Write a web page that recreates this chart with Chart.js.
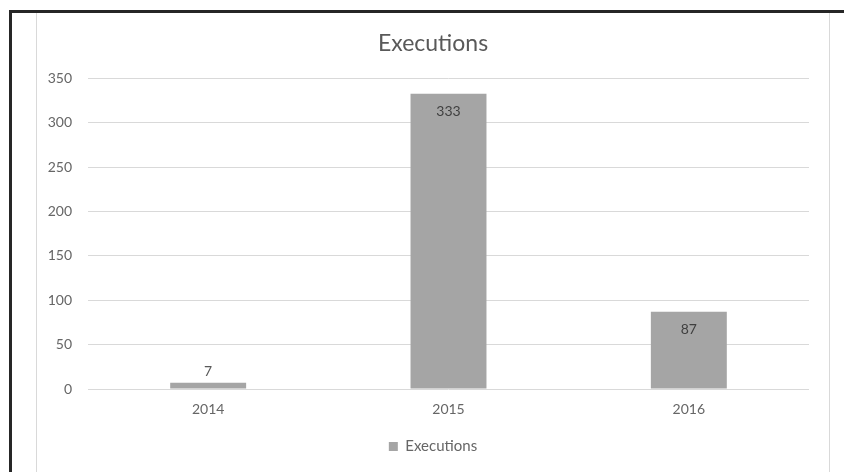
<!DOCTYPE html>
<html>
<head>
<meta charset="utf-8">
<script src="https://cdn.jsdelivr.net/npm/chart.js@4.4.1/dist/chart.umd.min.js"></script>
<style>
  html, body { margin: 0; padding: 0; background: #ffffff; width: 844px; height: 472px; overflow: hidden; }
  #frame { position: absolute; left: 9px; top: 10px; width: 840px; height: 470px;
           border-top: 3px solid #262626; border-left: 3px solid #262626; }
  #inner { position: absolute; left: 36px; top: 13px; width: 792px; height: 459px;
           border-left: 1px solid #d9d9d9; border-right: 1px solid #d9d9d9; }
  #wrap { position: absolute; left: 37px; top: 13px; width: 792px; height: 459px; }
</style>
</head>
<body>
<div id="frame"></div>
<div id="inner"></div>
<div id="wrap"><canvas id="c"></canvas></div>
<script>
const categories = ["2014", "2015", "2016"];
const executions = [7, 333, 87];
const seriesName = "Executions";
const chartTitle = "Executions";
const yTicks = [0, 50, 100, 150, 200, 250, 300, 350];

const FONT = "Lato, 'Open Sans', sans-serif";

const labelPlugin = {
  id: 'valueLabels',
  afterDatasetsDraw(chart) {
    const ctx = chart.ctx;
    const meta = chart.getDatasetMeta(0);
    ctx.save();
    ctx.font = "14px " + FONT;
    ctx.textAlign = 'center';
    ctx.textBaseline = 'middle';
    meta.data.forEach((bar, i) => {
      const v = chart.data.datasets[0].data[i];
      const h = bar.base - bar.y;
      if (h > 30) {
        ctx.fillStyle = '#404040';
        ctx.fillText(String(v), bar.x, bar.y + 18);
      } else {
        ctx.fillStyle = '#595959';
        ctx.fillText(String(v), bar.x, bar.y - 11);
      }
    });
    ctx.restore();
  }
};

// center title and legend on the full chart width (as in the original)
const recenterPlugin = {
  id: 'recenter',
  afterLayout(chart) {
    [chart.titleBlock, chart.legend].forEach(b => {
      if (b) { b.left = 0; b.right = chart.width; b.width = chart.width; }
    });
  }
};

new Chart(document.getElementById('c'), {
  type: 'bar',
  data: {
    labels: categories,
    datasets: [{
      label: seriesName,
      data: executions,
      backgroundColor: '#a5a5a5',
      borderWidth: 0,
      barPercentage: 0.316,
      categoryPercentage: 1.0
    }]
  },
  options: {
    responsive: true,
    maintainAspectRatio: false,
    animation: false,
    devicePixelRatio: 1,
    layout: { padding: { left: 0, right: 20, top: 0, bottom: 8 } },
    plugins: {
      title: {
        display: true,
        text: chartTitle,
        color: '#595959',
        font: { family: FONT, size: 23, weight: 'normal', lineHeight: 1.2 },
        padding: { top: 17, bottom: 21 }
      },
      legend: {
        display: true,
        position: 'bottom',
        labels: {
          color: '#666666',
          font: { family: FONT, size: 15 },
          boxWidth: 9,
          boxHeight: 9,
          padding: 10
        }
      },
      tooltip: { enabled: false }
    },
    scales: {
      x: {
        grid: { display: false, drawTicks: false },
        border: { display: false },
        ticks: { color: '#666666', font: { family: FONT, size: 14 }, padding: 12 },
        afterFit(scale) { scale.height = 40; }
      },
      y: {
        min: 0,
        max: 350,
        afterBuildTicks(scale) { scale.ticks = yTicks.map(v => ({ value: v })); },
        grid: { color: '#d9d9d9', lineWidth: 1, drawTicks: false },
        border: { display: false },
        ticks: { color: '#666666', font: { family: FONT, size: 14 }, padding: 16 },
        afterFit(scale) { scale.width = 51; }
      }
    }
  },
  plugins: [labelPlugin, recenterPlugin]
});
</script>
</body>
</html>
